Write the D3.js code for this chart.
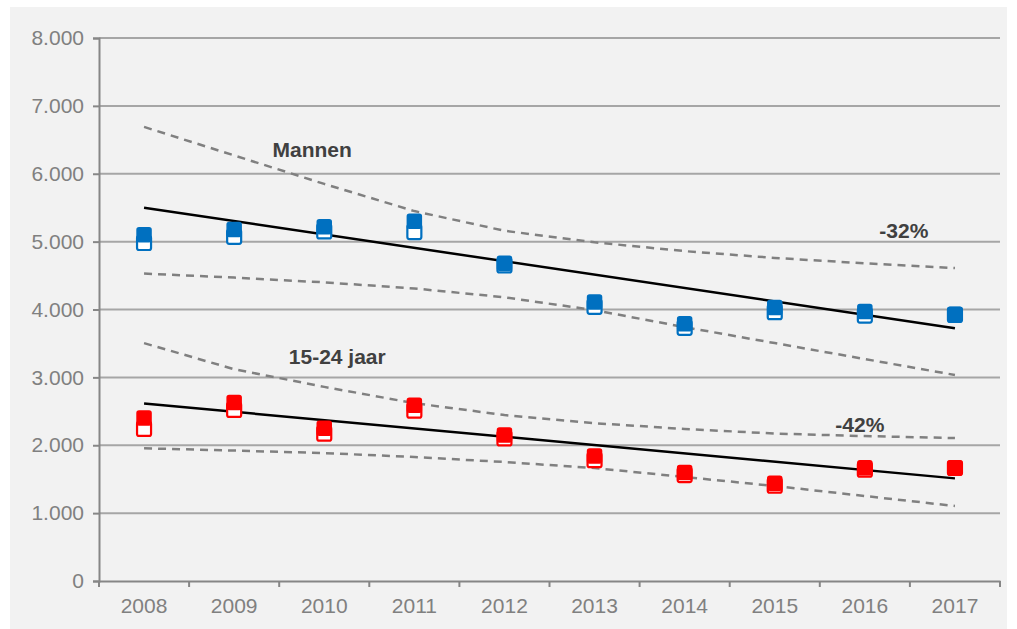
<!DOCTYPE html>
<html>
<head>
<meta charset="utf-8">
<script src="https://cdn.jsdelivr.net/npm/d3@7"></script>
<style>
  html, body { margin: 0; padding: 0; background: #ffffff; }
  svg { display: block; font-family: "Liberation Sans", Arial, sans-serif; }
</style>
</head>
<body>
<svg id="chart" width="1017" height="629"></svg>
<script>
// Years on the x axis
const years = ["2008", "2009", "2010", "2011", "2012", "2013", "2014", "2015", "2016", "2017"];
const yTicks = [0, 1000, 2000, 3000, 4000, 5000, 6000, 7000, 8000];

// Men: observed counts (filled = final, open = earlier estimate)
const menFilled = [5100, 5180, 5220, 5300, 4680, 4110, 3790, 4030, 3970, 3930];
const menOpen   = [4980, 5070, 5150, 5140, 4650, 4040, 3730, 3960, 3910, 3920];
// Men: trend line (start, end) and dashed bands
const menTrend = [5500, 3725];
const menUpper = [6690, 6270, 5850, 5450, 5160, 4990, 4860, 4760, 4680, 4610];
const menLower = [4530, 4470, 4400, 4310, 4180, 3990, 3740, 3505, 3270, 3035];

// 15-24 year olds: observed counts
const youthFilled = [2400, 2630, 2250, 2590, 2150, 1840, 1600, 1440, 1670, 1665];
const youthOpen   = [2240, 2520, 2170, 2510, 2100, 1780, 1560, 1405, 1640, 1665];
// 15-24 year olds: trend line and dashed bands
const youthTrend = [2615, 1512];
const youthUpper = [3505, 3120, 2860, 2620, 2445, 2325, 2240, 2172, 2135, 2106];
const youthLower = [1955, 1922, 1885, 1826, 1753, 1664, 1532, 1400, 1252, 1105];

const labels = [
  { text: "Mannen", year: "2009", value: 6250, dx: 78 },
  { text: "15-24 jaar", year: "2010", value: 3196, dx: 13 },
  { text: "-32%", year: "2016", value: 5052, dx: 39 },
  { text: "-42%", year: "2016", value: 2195, dx: -5 }
];

const svg = d3.select("#chart");
const W = 1017, H = 629;
const m = { left: 99, right: 1000, top: 38, bottom: 581 };
const FONT = "Liberation Sans, Arial, sans-serif";

// panel background
svg.append("rect").attr("x", 10).attr("y", 7).attr("width", 997).attr("height", H - 7).attr("fill", "#f2f2f2");

const x = d3.scaleBand().domain(years).range([m.left, m.right]).padding(0);
const y = d3.scaleLinear().domain([0, 8000]).range([m.bottom, m.top]);
const cx = yr => x(yr) + x.bandwidth() / 2;

// horizontal gridlines
svg.append("g").selectAll("line").data(yTicks.filter(d => d > 0)).join("line")
  .attr("x1", m.left).attr("x2", m.right)
  .attr("y1", d => y(d)).attr("y2", d => y(d))
  .attr("stroke", "#a6a6a6").attr("stroke-width", 2);

// y axis
const yAxis = svg.append("g").attr("transform", `translate(${m.left},0)`)
  .call(d3.axisLeft(y).tickValues(yTicks).tickSize(6).tickPadding(9)
    .tickFormat(d => d === 0 ? "0" : d3.format(",")(d).replace(/,/g, ".")));
yAxis.select(".domain").attr("stroke", "#868686").attr("stroke-width", 2);
yAxis.selectAll(".tick line").attr("stroke", "#868686").attr("stroke-width", 2);
yAxis.selectAll(".tick text").attr("fill", "#808080").attr("font-size", 21)
  .attr("font-family", FONT);

// x axis with ticks on category boundaries
const xAxis = svg.append("g").attr("transform", `translate(0,${m.bottom})`)
  .call(d3.axisBottom(x).tickSize(0).tickPadding(17));
xAxis.select(".domain").attr("stroke", "#868686").attr("stroke-width", 2);
xAxis.selectAll(".tick text").attr("fill", "#808080").attr("font-size", 21)
  .attr("font-family", FONT);
svg.append("g").selectAll("line").data(years.concat(["end"])).join("line")
  .attr("x1", (d, i) => m.left + i * x.bandwidth())
  .attr("x2", (d, i) => m.left + i * x.bandwidth())
  .attr("y1", m.bottom).attr("y2", m.bottom + 6)
  .attr("stroke", "#868686").attr("stroke-width", 2);

const line = d3.line().x((d, i) => cx(years[i])).y(d => y(d));

function band(values) {
  svg.append("path").datum(values).attr("d", line)
    .attr("fill", "none").attr("stroke", "#808080")
    .attr("stroke-width", 2.5).attr("stroke-dasharray", "8,6");
}
function trend(ends) {
  svg.append("line")
    .attr("x1", cx(years[0])).attr("x2", cx(years[years.length - 1]))
    .attr("y1", y(ends[0])).attr("y2", y(ends[1]))
    .attr("stroke", "#000").attr("stroke-width", 2.5);
}
const S = 14;
function markers(open, filled, color) {
  svg.append("g").selectAll("rect").data(open).join("rect")
    .attr("x", (d, i) => cx(years[i]) - S / 2).attr("y", d => y(d) - S / 2)
    .attr("width", S).attr("height", S).attr("rx", 2)
    .attr("fill", "#ffffff").attr("stroke", color).attr("stroke-width", 2.2);
  svg.append("g").selectAll("rect").data(filled).join("rect")
    .attr("x", (d, i) => cx(years[i]) - S / 2).attr("y", d => y(d) - S / 2)
    .attr("width", S).attr("height", S).attr("rx", 2)
    .attr("fill", color).attr("stroke", color).attr("stroke-width", 1.5);
}

band(menUpper); band(menLower);
band(youthUpper); band(youthLower);
trend(menTrend); trend(youthTrend);
markers(menOpen, menFilled, "#0070c0");
markers(youthOpen, youthFilled, "#ff0000");

svg.append("g").selectAll("text").data(labels).join("text")
  .attr("x", d => cx(d.year) + d.dx).attr("y", d => y(d.value))
  .attr("text-anchor", "middle")
  .attr("font-size", 21).attr("font-weight", "bold").attr("fill", "#404040")
  .attr("font-family", FONT)
  .text(d => d.text);
</script>
</body>
</html>
